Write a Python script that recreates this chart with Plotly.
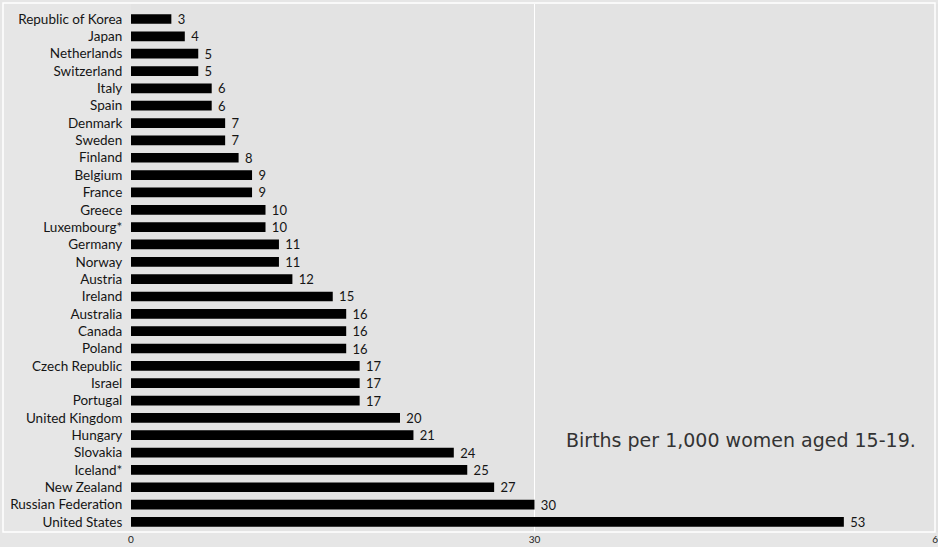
import plotly.graph_objects as go

countries = ["Republic of Korea", "Japan", "Netherlands", "Switzerland", "Italy", "Spain",
             "Denmark", "Sweden", "Finland", "Belgium", "France", "Greece", "Luxembourg*",
             "Germany", "Norway", "Austria", "Ireland", "Australia", "Canada", "Poland",
             "Czech Republic", "Israel", "Portugal", "United Kingdom", "Hungary", "Slovakia",
             "Iceland*", "New Zealand", "Russian Federation", "United States"]
births = [3, 4, 5, 5, 6, 6, 7, 7, 8, 9, 9, 10, 10, 11, 11, 12, 15, 16, 16, 16,
          17, 17, 17, 20, 21, 24, 25, 27, 30, 53]
x_ticks = [0, 30, 60]
note = "Births per 1,000 women aged 15-19."

fig = go.Figure(go.Bar(
    x=births, y=countries, orientation="h",
    marker=dict(color="#000000", line=dict(width=0)),
    text=[" " + str(v) for v in births], textposition="outside",
    constraintext="none",
    textfont=dict(family="Lato", size=13, color="#151515"),
    cliponaxis=False,
))

W, H = 938, 547
L, R, T, B = 131, 0, 4, 15
pw = W - L - R

fig.update_layout(
    width=W, height=H,
    margin=dict(l=L, r=R, t=T, b=B, autoexpand=False),
    paper_bgcolor="#e6e6e6",
    plot_bgcolor="#e3e3e3",
    bargap=0.44,
    showlegend=False,
    xaxis=dict(range=[0, 60], tickvals=x_ticks, showgrid=True, gridcolor="#ffffff",
               gridwidth=1, zeroline=False, showline=False, automargin=False,
               tickfont=dict(family="Lato", size=10, color="#222222"),
               ticks="", ticklabelstandoff=0, ticklabeloverflow="allow"),
    yaxis=dict(categoryorder="array", categoryarray=countries,
               range=[29.58, -0.865], showgrid=False, zeroline=False, automargin=False,
               tickfont=dict(family="Lato", size=13.5, color="#151515"),
               ticks="outside", ticklen=5, tickcolor="rgba(0,0,0,0)"),
    shapes=[dict(type="rect", xref="paper", yref="paper",
                 x0=-(L - 3) / pw, x1=1 - 3 / pw, y0=0, y1=1 + 1 / 528,
                 line=dict(color="#ffffff", width=1.5), layer="below")],
    annotations=[dict(text=note, xref="paper", yref="paper", x=(918 - L) / pw,
                      y=(532 - 440) / 528,
                      xanchor="right", yanchor="middle", showarrow=False,
                      font=dict(family="DejaVu Sans", size=19, color="#333333"))],
)

fig.write_html("out.html", config={"displayModeBar": False},
               post_script="document.body.style.margin='0';")
